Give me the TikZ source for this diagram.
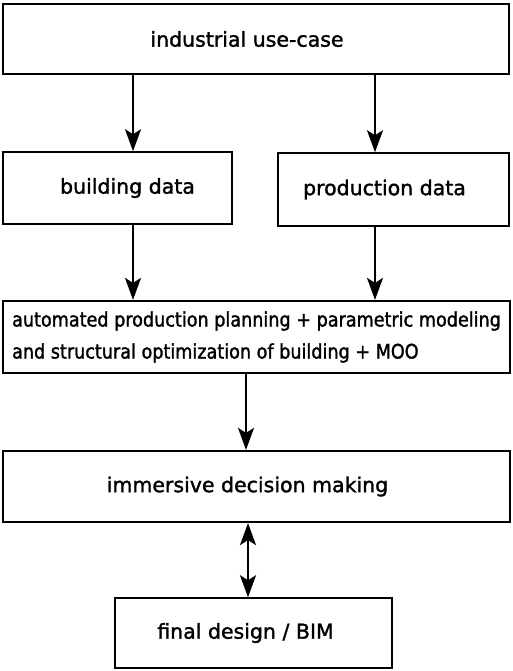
\documentclass[tikz,border=0pt]{standalone}
\usepackage{fontspec}
\setmainfont[FakeBold=1.5]{DejaVu Sans}
\newfontfamily\narrowfont[FakeStretch=0.88, FakeBold=1.5]{DejaVu Sans}
\usepackage{tikz}
\usetikzlibrary{arrows,arrows.meta,positioning}

\begin{document}
\begin{tikzpicture}[
        x=1pt, y=-1pt,
        box/.style={rectangle, draw=black, line width=1.5pt, align=center, inner sep=0pt, font=\fontsize{20.5}{32}\selectfont},
        heavybox/.style={box, line width=2.2pt},
        tip/.tip={Stealth[length=22pt, width=16pt, inset=5pt]},
        relation/.style={-tip, line width=2.2pt},
        twoway/.style={tip-tip, line width=2.2pt}
    ]
        \useasboundingbox (0,0) rectangle (512,671);

        % Use case
        \node[heavybox, minimum width=506pt, minimum height=70pt] (usecase) at (256,39) {\hspace*{-18pt}industrial use-case};

        % Data
        \node[box, minimum width=229pt, minimum height=72pt] (building) at (117.5,188) {\hspace*{20pt}building data};
        \node[box, minimum width=231pt, minimum height=73pt] (production) at (393.5,189.5) {\hspace*{-18pt}production data};

        % Planning
        \node[heavybox, minimum width=507pt, minimum height=72pt, font=\narrowfont\fontsize{20}{32}\selectfont, align=left] (planning) at (256.5,337) {
            automated production planning + parametric modeling\\
            and structural optimization of building + MOO
        };

        % Decision
        \node[heavybox, minimum width=507pt, minimum height=71pt] (decision) at (256.5,486.5) {\hspace*{-18pt}immersive decision making};
        \node[box, minimum width=277pt, minimum height=70pt] (final) at (253.5,633) {\hspace*{-16pt}final design / BIM};

        % Relations
        \draw[relation] ([xshift=15.5pt]building.north |- usecase.south) -- ([xshift=15.5pt]building.north);
        \draw[relation] ([xshift=-18.5pt]production.north |- usecase.south) -- ([xshift=-18.5pt]production.north);
        \draw[relation] ([xshift=15.5pt]building.south) -- ([xshift=15.5pt]building.south |- planning.north);
        \draw[relation] ([xshift=-18.5pt]production.south) -- ([xshift=-18.5pt]production.south |- planning.north);
        \draw[relation] ([xshift=-10.5pt]planning.south) -- ([xshift=-10.5pt]planning.south |- decision.north);
        \draw[twoway] ([xshift=-5.5pt]final.north |- decision.south) -- ([xshift=-5.5pt]final.north);

    \end{tikzpicture}
\end{document}
